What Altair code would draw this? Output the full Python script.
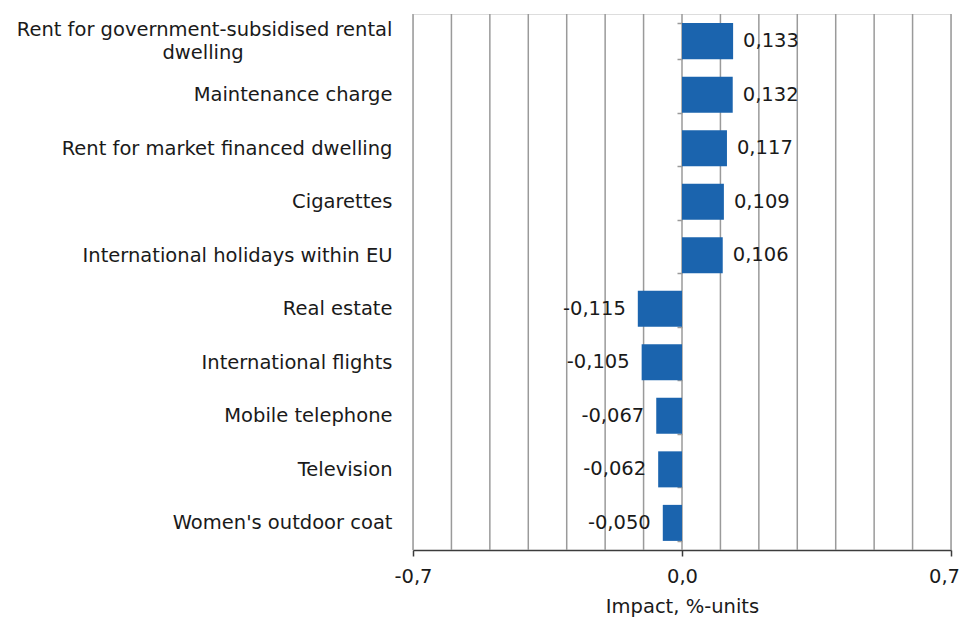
import altair as alt
import pandas as pd

# ---- data ----
categories = [
    "Rent for government-subsidised rental dwelling",
    "Maintenance charge",
    "Rent for market financed dwelling",
    "Cigarettes",
    "International holidays within EU",
    "Real estate",
    "International flights",
    "Mobile telephone",
    "Television",
    "Women's outdoor coat",
]
values = [0.133, 0.132, 0.117, 0.109, 0.106, -0.115, -0.105, -0.067, -0.062, -0.050]
grid_ticks = [-0.7, -0.6, -0.5, -0.4, -0.3, -0.2, -0.1, 0.0, 0.1, 0.2, 0.3, 0.4, 0.5, 0.6, 0.7]
axis_ticks = [-0.7, 0.0, 0.7]
x_title = "Impact, %-units"

# ---- style ----
FONT = "DejaVu Sans"
FS = 19.5
W, H = 538, 536
BAR = "#1b64ae"
GRID = "#9a9a9a"
DARK = "#3c3c3c"
TXT = "#1a1a1a"

df = pd.DataFrame({
    "category": categories,
    "value": values,
    "label": [f"{v:.3f}".replace(".", ",") for v in values],
})
pos = df[df["value"] >= 0]
neg = df[df["value"] < 0]
grid_df = pd.DataFrame({"g": grid_ticks})

LONG = "Rent for government-subsidised rental dwelling"
pad = "\u00a0" * 24 + "\u200b"
label_expr = (
    "datum.value == '" + LONG + "' ? "
    "['Rent for government-subsidised rental', 'dwelling" + pad + "'] : datum.value"
)

xscale = alt.Scale(domain=[-0.7, 0.7], nice=False, zero=False)
yscale = alt.Scale(domain=categories, paddingInner=0.327, paddingOuter=0.17)

xaxis = alt.Axis(
    values=axis_ticks, grid=False, title=x_title,
    labelExpr="replace(replace(format(datum.value, '.1f'), '.', ','), '\u2212', '-')",
    labelFont=FONT, labelFontSize=FS, labelColor=TXT, labelPadding=11,
    labelOffset={"condition": {"test": "datum.value > 0.5", "value": -7}, "value": 0},
    titleFont=FONT, titleFontSize=FS, titleFontWeight="normal", titleColor=TXT,
    titleY=62, titleBaseline="alphabetic",
    domainColor=DARK, domainWidth=1.5, tickColor=DARK, tickWidth=1.5, tickSize=6,
    labelFlush=False,
)
yaxis = alt.Axis(
    title=None, orient="left", offset=-W / 2, domain=False,
    ticks=True, tickSize=5, tickColor=GRID, tickWidth=1.5, tickBand="extent",
    labelPadding=W / 2 + 21 - 5, labelFont=FONT, labelFontSize=FS,
    labelColor=TXT, labelLimit=0, labelAlign="right", labelBaseline="middle",
    labelExpr=label_expr, labelLineHeight=23, grid=False,
    labelOffset={"condition": {"test": "datum.value == '" + LONG + "'", "value": -11.5}, "value": 0},
)

grid = alt.Chart(grid_df).mark_rule(color=GRID, strokeWidth=1.5).encode(
    x=alt.X("g:Q", scale=xscale, axis=xaxis),
)

y_enc = alt.Y("category:N", sort=categories, scale=yscale, axis=yaxis)

bars = alt.Chart(df).mark_bar(color=BAR).encode(
    x=alt.X("value:Q", scale=xscale, axis=xaxis),
    y=y_enc,
)

pos_text = alt.Chart(pos).mark_text(
    align="left", baseline="middle", dx=10, font=FONT, fontSize=FS, color=TXT
).encode(
    x=alt.X("value:Q", scale=xscale, axis=xaxis),
    y=y_enc,
    text="label:N",
)
neg_text = alt.Chart(neg).mark_text(
    align="right", baseline="middle", dx=-12, font=FONT, fontSize=FS, color=TXT
).encode(
    x=alt.X("value:Q", scale=xscale, axis=xaxis),
    y=y_enc,
    text="label:N",
)

chart = alt.layer(grid, bars, pos_text, neg_text).properties(
    width=W, height=H,
    autosize=alt.AutoSizeParams(type="none"),
    padding={"left": 405, "top": 6, "right": 9, "bottom": 67},
).configure_view(stroke=DARK, strokeWidth=1.5).configure(background="white")

chart.save("out.html", embed_options={"renderer": "svg", "actions": False})
